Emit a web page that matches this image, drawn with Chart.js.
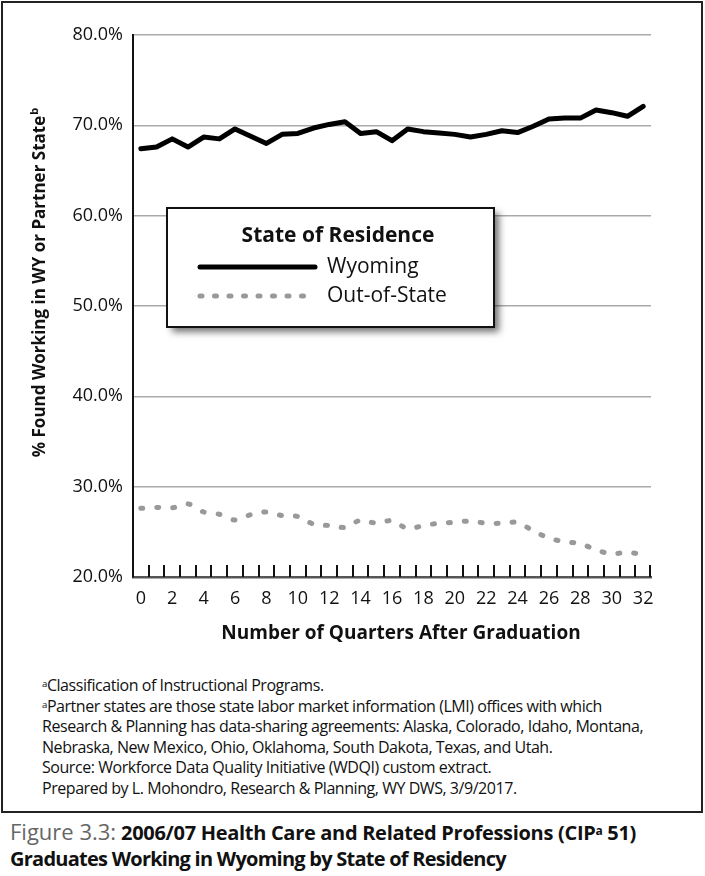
<!DOCTYPE html>
<html>
<head>
<meta charset="utf-8">
<title>Figure 3.3 - Health Care Graduates Working in Wyoming</title>
<script src="https://cdn.jsdelivr.net/npm/chart.js@4.4.1/dist/chart.umd.min.js"></script>
<style>
  html, body { margin: 0; padding: 0; background: #fff; }
  #page { position: relative; width: 705px; height: 876px; overflow: hidden; font-family: 'Open Sans', sans-serif; color: #111; }
  #frame { position: absolute; left: 1px; top: 1px; width: 698px; height: 808px; border: 2px solid #222; }
  #chartWrap { position: absolute; left: 0; top: 0; width: 705px; height: 660px; }
  #notes { position: absolute; left: 42px; top: 675px; font-size: 16px; line-height: 20.6px; letter-spacing: -0.45px; white-space: nowrap; color: #111; }
  #notes sup, #caption sup { font-size: 0.6em; line-height: 0; vertical-align: 0.45em; }
  #caption { position: absolute; left: 10px; top: 818px; font-size: 20px; line-height: 26px; letter-spacing: -0.75px; font-weight: bold; white-space: nowrap; color: #111; }
  #caption .first { letter-spacing: -0.3px; }
  #caption .fig { font-weight: normal; color: #666; font-size: 22px; letter-spacing: 0; }
</style>
</head>
<body>
<div id="page">
  <div id="frame"></div>
  <div id="chartWrap"><canvas id="chartResidency" width="705" height="660"></canvas></div>
  <div id="notes">
    <div><sup>a</sup>Classification of Instructional Programs.</div>
    <div><sup>a</sup>Partner states are those state labor market information (LMI) offices with which</div>
    <div>Research &amp; Planning has data-sharing agreements: Alaska, Colorado, Idaho, Montana,</div>
    <div>Nebraska, New Mexico, Ohio, Oklahoma, South Dakota, Texas, and Utah.</div>
    <div>Source: Workforce Data Quality Initiative (WDQI) custom extract.</div>
    <div>Prepared by L. Mohondro, Research &amp; Planning, WY DWS, 3/9/2017.</div>
  </div>
  <div id="caption">
    <div class="first"><span class="fig">Figure 3.3:</span> 2006/07 Health Care and Related Professions (CIP<sup>a</sup> 51)</div>
    <div>Graduates Working in Wyoming by State of Residency</div>
  </div>
</div>

<script>
// ---- data ----
const quarters = [0, 1, 2, 3, 4, 5, 6, 7, 8, 9, 10, 11, 12, 13, 14, 15, 16,
  17, 18, 19, 20, 21, 22, 23, 24, 25, 26, 27, 28, 29, 30, 31, 32];

const wyoming = [67.4, 67.6, 68.5, 67.6, 68.7, 68.5, 69.6, 68.8, 68.0, 69.0, 69.1,
  69.7, 70.1, 70.4, 69.1, 69.3, 68.3, 69.6, 69.3, 69.15, 69.0, 68.7, 69.0, 69.4,
  69.2, 69.9, 70.7, 70.8, 70.8, 71.7, 71.4, 71.0, 72.1];

const outOfState = [27.6, 27.7, 27.65, 28.1, 27.2, 26.95, 26.3, 26.9, 27.2, 26.8, 26.7,
  25.85, 25.7, 25.5, 26.3, 25.95, 26.25, 25.35, 25.7, 25.95, 26.05, 26.2, 25.95, 25.95,
  26.05, 25.1, 24.3, 23.9, 23.7, 23.0, 22.55, 22.75, 22.45];

const seriesNames = ['Wyoming', 'Out-of-State'];
const yTicks = [20, 30, 40, 50, 60, 70, 80];
const xShownLabels = [0, 2, 4, 6, 8, 10, 12, 14, 16, 18, 20, 22, 24, 26, 28, 30, 32];

const FONT = "'Open Sans', sans-serif";

// tick marks sit inside the plot, one at every category boundary
const insideTicks = {
  id: 'insideTicks',
  beforeDatasetsDraw(chart) {
    const { ctx, chartArea, scales: { x } } = chart;
    ctx.save();
    ctx.strokeStyle = '#111';
    ctx.lineWidth = 2;
    for (let i = 1; i <= quarters.length; i++) {
      const px = i < quarters.length
        ? (x.getPixelForValue(i - 1) + x.getPixelForValue(i)) / 2
        : chartArea.right - 1;
      ctx.beginPath();
      ctx.moveTo(Math.round(px), chartArea.bottom);
      ctx.lineTo(Math.round(px), chartArea.bottom - 12);
      ctx.stroke();
    }
    ctx.restore();
  }
};

// boxed legend with title and drop shadow
const boxLegend = {
  id: 'boxLegend',
  afterDatasetsDraw(chart) {
    const { ctx, chartArea } = chart;
    const bx = chartArea.left + 34, by = chartArea.top + 173, bw = 327, bh = 119;
    ctx.save();
    ctx.shadowColor = 'rgba(0,0,0,0.55)';
    ctx.shadowBlur = 7;
    ctx.shadowOffsetX = 5;
    ctx.shadowOffsetY = 5;
    ctx.fillStyle = '#fff';
    ctx.fillRect(bx, by, bw, bh);
    ctx.restore();

    ctx.save();
    ctx.strokeStyle = '#111';
    ctx.lineWidth = 2;
    ctx.strokeRect(bx, by, bw, bh);

    ctx.fillStyle = '#111';
    ctx.textBaseline = 'middle';
    ctx.textAlign = 'center';
    ctx.font = `bold 21px ${FONT}`;
    ctx.fillText('State of Residence', bx + 171, by + 28);

    ctx.textAlign = 'left';
    ctx.font = `21px ${FONT}`;
    chart.data.datasets.forEach((ds, i) => {
      const ly = by + 59 + i * 29;
      ctx.save();
      ctx.strokeStyle = ds.borderColor;
      ctx.lineWidth = ds.borderWidth;
      ctx.lineCap = 'round';
      ctx.setLineDash(ds.borderDash ? [2, 12.5] : []);
      ctx.beginPath();
      ctx.moveTo(bx + 33, ly);
      ctx.lineTo(bx + 148, ly);
      ctx.stroke();
      ctx.restore();
      ctx.fillText(ds.label, bx + 160, ly);
    });
    ctx.restore();
  }
};

// axis titles (y title carries a superscript)
const axisTitles = {
  id: 'axisTitles',
  afterDraw(chart) {
    const { ctx } = chart;
    ctx.save();
    ctx.fillStyle = '#111';
    ctx.textBaseline = 'middle';
    ctx.textAlign = 'center';
    ctx.font = `bold 19px ${FONT}`;
    ctx.fillText('Number of Quarters After Graduation', 401, 634);

    const main = '% Found Working in WY or Partner State';
    ctx.translate(40, 283);
    ctx.rotate(-Math.PI / 2);
    ctx.font = `bold 17px ${FONT}`;
    const w = ctx.measureText(main).width;
    ctx.font = `bold 11px ${FONT}`;
    const ws = ctx.measureText('b').width;
    const start = -(w + ws) / 2;
    ctx.textAlign = 'left';
    ctx.font = `bold 17px ${FONT}`;
    ctx.fillText(main, start, 0);
    ctx.font = `bold 11px ${FONT}`;
    ctx.fillText('b', start + w + 1, -5);
    ctx.restore();
  }
};

function createResidencyChart() {
  const ctx = document.getElementById('chartResidency');
  if (!ctx) return;

  new Chart(ctx, {
    type: 'line',
    data: {
      labels: quarters,
      datasets: [
        {
          label: seriesNames[0],
          data: wyoming,
          borderColor: '#000',
          borderWidth: 5,
          borderJoinStyle: 'round',
          borderCapStyle: 'round',
          pointRadius: 0,
          tension: 0,
          fill: false
        },
        {
          label: seriesNames[1],
          data: outOfState,
          borderColor: '#999',
          borderWidth: 5,
          borderDash: [2, 14],
          borderCapStyle: 'round',
          pointRadius: 0,
          tension: 0.25,
          fill: false
        }
      ]
    },
    options: {
      responsive: false,
      animation: false,
      layout: { padding: { top: 35, right: 54, bottom: 0, left: 0 } },
      plugins: {
        legend: { display: false },
        tooltip: { enabled: false }
      },
      scales: {
        x: {
          offset: true,
          grid: { display: false, offset: true },
          border: { display: true, color: '#555', width: 2.5 },
          ticks: {
            autoSkip: false,
            maxRotation: 0,
            padding: 3,
            color: '#111',
            font: { family: FONT, size: 18 },
            callback: (v, i) => xShownLabels.includes(quarters[i]) ? String(quarters[i]) : ''
          },
          afterFit: (scale) => { scale.height = 83; }
        },
        y: {
          min: 20,
          max: 80,
          afterBuildTicks: (scale) => { scale.ticks = yTicks.map(v => ({ value: v })); },
          grid: {
            color: (c) => c.tick && c.tick.value === 20 ? 'rgba(0,0,0,0)' : '#aaa',
            lineWidth: 1.5,
            drawTicks: false
          },
          border: { color: '#111', width: 2 },
          ticks: {
            padding: 10,
            color: '#111',
            font: { family: FONT, size: 18 },
            callback: (v) => v.toFixed(1) + '%'
          },
          afterFit: (scale) => { scale.width = 133; }
        }
      }
    },
    plugins: [insideTicks, boxLegend, axisTitles]
  });
}

document.addEventListener('DOMContentLoaded', createResidencyChart);
</script>
</body>
</html>
